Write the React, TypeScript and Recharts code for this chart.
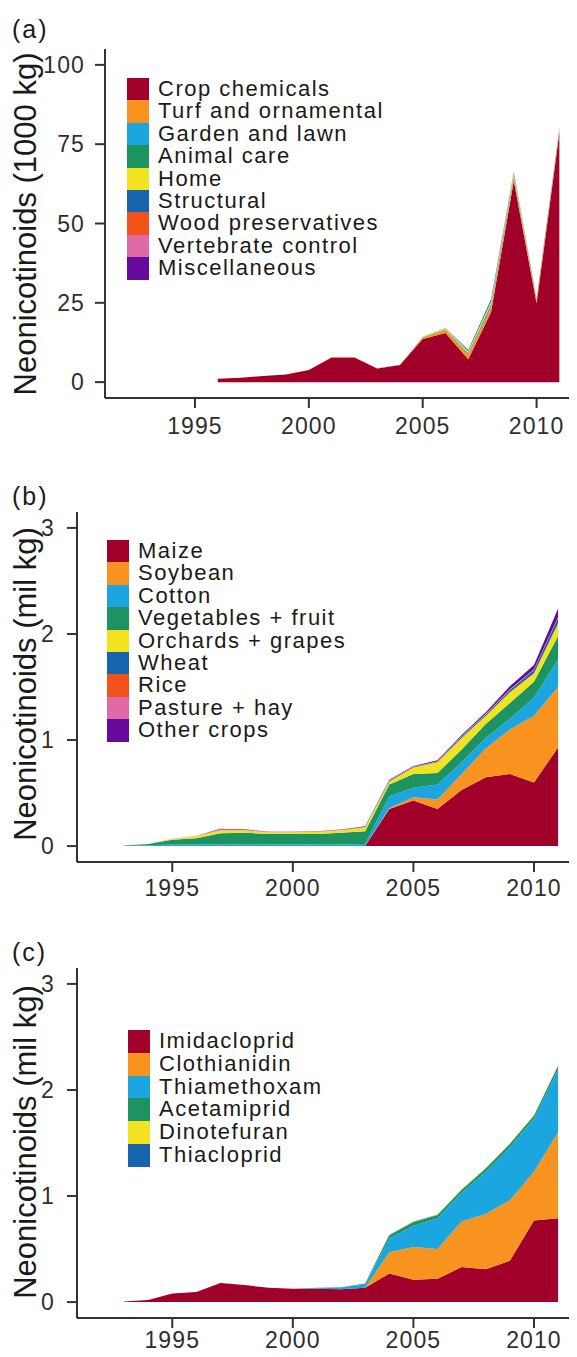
import { AreaChart, Area, XAxis, YAxis } from 'recharts';

const FONT = '"Liberation Sans", Arial, Helvetica, sans-serif';
const AXIS = '#333333';
const TICK = '#2e2e2e';

// shared palette, legend order = stack order (bottom to top)
const palette = ['#a0002a', '#f7931e', '#1ba6e0', '#1c9360', '#f1e31f', '#1663ae', '#f25219', '#e06aa6', '#660a9c'];

const xTicks = [1995, 2000, 2005, 2010];
const xDomain = [1991.05, 2011.95];

// ---- (a) use sector, 1000 kg ----
const yearsA = [1996, 1997, 1998, 1999, 2000, 2001, 2002, 2003, 2004, 2005, 2006, 2007, 2008, 2009, 2010, 2011];
const sectorNames = ['Crop chemicals', 'Turf and ornamental', 'Garden and lawn', 'Animal care', 'Home', 'Structural', 'Wood preservatives', 'Vertebrate control', 'Miscellaneous'];
const cropChemicals = [1.1, 1.4, 1.9, 2.4, 3.8, 7.8, 7.8, 4.3, 5.4, 13.6, 15.5, 7.2, 22, 63.5, 24.8, 78.5];
const turfOrnamental = [0, 0, 0, 0, 0.1, 0.1, 0.1, 0.1, 0.1, 0.5, 0.9, 1.4, 1.6, 1.2, 0.8, 0.8];
const gardenLawn = [0, 0, 0, 0, 0, 0, 0, 0, 0, 0.1, 0.2, 0.5, 0.9, 0.5, 0.2, 0.3];
const animalCare = [0, 0, 0, 0, 0, 0, 0, 0, 0, 0, 0.1, 0.1, 0.1, 0.1, 0.1, 0.1];
const home = [0, 0, 0, 0, 0, 0, 0, 0, 0, 0.2, 0.3, 0.5, 0.8, 0.6, 0.3, 0.3];
const structural = [0, 0, 0, 0, 0, 0, 0, 0, 0, 0, 0.1, 0.4, 0.7, 0.4, 0.2, 0.2];
const woodPreservatives = [0, 0, 0, 0, 0, 0, 0, 0, 0, 0, 0, 0, 0, 0, 0, 0];
const vertebrateControl = [0, 0, 0, 0, 0, 0, 0, 0, 0, 0, 0, 0, 0, 0, 0, 0];
const miscellaneous = [0, 0, 0, 0, 0, 0, 0, 0, 0, 0, 0, 0, 0.05, 0.05, 0.05, 0.05];

// ---- (b) crop, mil kg ----
const yearsBC = [1993, 1994, 1995, 1996, 1997, 1998, 1999, 2000, 2001, 2002, 2003, 2004, 2005, 2006, 2007, 2008, 2009, 2010, 2011];
const cropNames = ['Maize', 'Soybean', 'Cotton', 'Vegetables + fruit', 'Orchards + grapes', 'Wheat', 'Rice', 'Pasture + hay', 'Other crops'];
const maize = [0, 0, 0, 0, 0, 0, 0, 0, 0, 0, 0, 0.35, 0.43, 0.35, 0.53, 0.65, 0.68, 0.6, 0.93];
const soybean = [0, 0, 0, 0, 0, 0, 0, 0, 0, 0, 0, 0.01, 0.03, 0.09, 0.15, 0.27, 0.42, 0.63, 0.57];
const cotton = [0.002, 0.008, 0.015, 0.015, 0.015, 0.015, 0.015, 0.015, 0.015, 0.015, 0.02, 0.11, 0.09, 0.14, 0.11, 0.1, 0.1, 0.17, 0.26];
const vegFruit = [0.003, 0.012, 0.045, 0.06, 0.105, 0.11, 0.1, 0.1, 0.1, 0.11, 0.12, 0.11, 0.13, 0.11, 0.12, 0.13, 0.15, 0.15, 0.22];
const orchardsGrapes = [0, 0.003, 0.008, 0.02, 0.03, 0.025, 0.015, 0.015, 0.02, 0.025, 0.035, 0.03, 0.06, 0.1, 0.11, 0.08, 0.1, 0.08, 0.12];
const wheat = [0, 0, 0, 0, 0, 0, 0, 0, 0, 0, 0.003, 0.005, 0.005, 0.005, 0.01, 0.01, 0.02, 0.03, 0.05];
const rice = [0, 0, 0, 0, 0, 0, 0, 0, 0, 0, 0, 0, 0, 0, 0.002, 0.002, 0.003, 0.003, 0.004];
const pastureHay = [0, 0, 0.002, 0.003, 0.008, 0.005, 0.003, 0.003, 0.003, 0.004, 0.005, 0.005, 0.005, 0.005, 0.005, 0.005, 0.005, 0.005, 0.005];
const otherCrops = [0, 0, 0, 0, 0.005, 0.003, 0.002, 0.002, 0.002, 0.003, 0.005, 0.005, 0.005, 0.01, 0.01, 0.015, 0.03, 0.04, 0.08];

// ---- (c) compound, mil kg ----
const compoundNames = ['Imidacloprid', 'Clothianidin', 'Thiamethoxam', 'Acetamiprid', 'Dinotefuran', 'Thiacloprid'];
const imidacloprid = [0.005, 0.02, 0.08, 0.095, 0.18, 0.16, 0.135, 0.125, 0.125, 0.12, 0.135, 0.27, 0.21, 0.22, 0.33, 0.31, 0.39, 0.77, 0.79];
const clothianidin = [0, 0, 0, 0, 0, 0, 0, 0, 0, 0, 0, 0.2, 0.31, 0.28, 0.43, 0.52, 0.57, 0.46, 0.81];
const thiamethoxam = [0, 0, 0, 0, 0, 0, 0, 0, 0.01, 0.02, 0.03, 0.13, 0.2, 0.29, 0.27, 0.4, 0.5, 0.5, 0.59];
const acetamiprid = [0, 0, 0, 0, 0, 0, 0, 0, 0, 0, 0.01, 0.03, 0.035, 0.03, 0.03, 0.03, 0.03, 0.03, 0.035];
const dinotefuran = [0, 0, 0, 0, 0, 0, 0, 0, 0, 0, 0, 0, 0.003, 0.003, 0.003, 0.003, 0.003, 0.003, 0.003];
const thiacloprid = [0, 0, 0, 0, 0, 0, 0, 0, 0, 0, 0, 0.002, 0.002, 0.002, 0.002, 0.002, 0.002, 0.002, 0.002];

type Series = { key: string; name: string; color: string };

function buildRows(years: number[], names: string[], values: number[][]) {
    return years.map((year, i) => {
        const row: Record<string, number> = { year };
        names.forEach((_, j) => {
            row['s' + j] = values[j][i];
        });
        return row;
    });
}

function buildSeries(names: string[]): Series[] {
    return names.map((name, j) => ({ key: 's' + j, name, color: palette[j] }));
}

const dataA = buildRows(yearsA, sectorNames, [cropChemicals, turfOrnamental, gardenLawn, animalCare, home, structural, woodPreservatives, vertebrateControl, miscellaneous]);
const dataB = buildRows(yearsBC, cropNames, [maize, soybean, cotton, vegFruit, orchardsGrapes, wheat, rice, pastureHay, otherCrops]);
const dataC = buildRows(yearsBC, compoundNames, [imidacloprid, clothianidin, thiamethoxam, acetamiprid, dinotefuran, thiacloprid]);

type PanelProps = {
    top: number;
    height: number;
    plotTop: number;
    axisWidth: number;
    xAxisHeight: number;
    xTickMargin: number;
    yTickMargin: number;
    data: Record<string, number>[];
    series: Series[];
    yDomain: number[];
    yTicks: number[];
};

function StackPanel({ top, height, plotTop, axisWidth, xAxisHeight, xTickMargin, yTickMargin, data, series, yDomain, yTicks }: PanelProps) {
    const tickStyle = { fill: TICK, fontSize: 23, fontFamily: FONT, letterSpacing: 1.1 };
    return (
        <div style={{ position: 'absolute', left: 0, top }}>
            <AreaChart width={600} height={height} data={data} margin={{ top: plotTop, right: 19, bottom: 0, left: 0 }}>
                <XAxis
                    dataKey="year"
                    type="number"
                    domain={xDomain}
                    ticks={xTicks}
                    allowDataOverflow
                    height={xAxisHeight}
                    tickSize={10}
                    tickMargin={xTickMargin}
                    axisLine={{ stroke: AXIS, strokeWidth: 2 }}
                    tickLine={{ stroke: AXIS, strokeWidth: 2 }}
                    tick={tickStyle}
                />
                <YAxis
                    type="number"
                    domain={yDomain}
                    ticks={yTicks}
                    allowDataOverflow
                    width={axisWidth}
                    tickSize={10}
                    tickMargin={yTickMargin}
                    axisLine={{ stroke: AXIS, strokeWidth: 2 }}
                    tickLine={{ stroke: AXIS, strokeWidth: 2 }}
                    tick={tickStyle}
                />
                {series.map((s) => (
                    <Area
                        key={s.key}
                        dataKey={s.key}
                        name={s.name}
                        stackId="1"
                        type="linear"
                        stroke="none"
                        fill={s.color}
                        fillOpacity={1}
                        isAnimationActive={false}
                    />
                ))}
            </AreaChart>
        </div>
    );
}

function Key({ series, left, top, rowHeight }: { series: Series[]; left: number; top: number; rowHeight: number }) {
    return (
        <div style={{ position: 'absolute', left, top }}>
            {series.map((s) => (
                <div key={s.key} style={{ position: 'relative', height: rowHeight }}>
                    <div style={{ position: 'absolute', left: 0, top: 0, width: 22, height: rowHeight, background: s.color }} />
                    <div
                        style={{
                            position: 'absolute',
                            left: 31,
                            top: 0,
                            fontSize: 22,
                            lineHeight: `${rowHeight}px`,
                            letterSpacing: 1.5,
                            whiteSpace: 'nowrap',
                            color: '#1a1a1a',
                        }}
                    >
                        {s.name}
                    </div>
                </div>
            ))}
        </div>
    );
}

function YTitle({ text, centerY }: { text: string; centerY: number }) {
    return (
        <div
            style={{
                position: 'absolute',
                left: 25,
                top: centerY,
                transform: 'translate(-50%, -50%) rotate(-90deg)',
                fontSize: 31,
                lineHeight: 1,
                whiteSpace: 'nowrap',
                color: '#1a1a1a',
            }}
        >
            {text}
        </div>
    );
}

function PanelTag({ text, top }: { text: string; top: number }) {
    return (
        <div style={{ position: 'absolute', left: 12, top, fontSize: 25, lineHeight: 1, letterSpacing: 2, color: '#1a1a1a' }}>
            {text}
        </div>
    );
}

export default function App() {
    return (
        <div
            style={{
                position: 'relative',
                width: 577,
                height: 1357,
                margin: -8,
                overflow: 'hidden',
                background: '#ffffff',
                fontFamily: FONT,
            }}
        >
            {/* (a) */}
            <StackPanel
                top={0}
                height={448}
                plotTop={49}
                axisWidth={105}
                xAxisHeight={50}
                xTickMargin={10}
                yTickMargin={10}
                data={dataA}
                series={buildSeries(sectorNames)}
                yDomain={[-5, 105]}
                yTicks={[0, 25, 50, 75, 100]}
            />
            <PanelTag text="(a)" top={17} />
            <YTitle text="Neonicotinoids (1000 kg)" centerY={224} />
            <Key series={buildSeries(sectorNames)} left={127} top={78} rowHeight={22.4} />

            {/* (b) */}
            <StackPanel
                top={460}
                height={452}
                plotTop={52}
                axisWidth={77}
                xAxisHeight={50}
                xTickMargin={8}
                yTickMargin={12}
                data={dataB}
                series={buildSeries(cropNames)}
                yDomain={[-0.15, 3.15]}
                yTicks={[0, 1, 2, 3]}
            />
            <PanelTag text="(b)" top={484} />
            <YTitle text="Neonicotinoids (mil kg)" centerY={684} />
            <Key series={buildSeries(cropNames)} left={107} top={540} rowHeight={22.4} />

            {/* (c) */}
            <StackPanel
                top={910}
                height={448}
                plotTop={58}
                axisWidth={77}
                xAxisHeight={40}
                xTickMargin={4}
                yTickMargin={12}
                data={dataC}
                series={buildSeries(compoundNames)}
                yDomain={[-0.15, 3.15]}
                yTicks={[0, 1, 2, 3]}
            />
            <PanelTag text="(c)" top={940} />
            <YTitle text="Neonicotinoids (mil kg)" centerY={1142} />
            <Key series={buildSeries(compoundNames)} left={128} top={1030} rowHeight={22.8} />
        </div>
    );
}
